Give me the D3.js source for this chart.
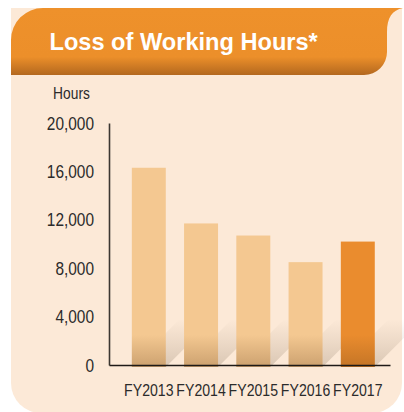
<!DOCTYPE html>
<html>
<head>
<meta charset="utf-8">
<script src="https://cdn.jsdelivr.net/npm/d3@7"></script>
<style>
  html, body { margin: 0; padding: 0; background: #ffffff; }
  svg { display: block; }
  .narrow { font-family: "Liberation Sans", Arial, sans-serif; }
</style>
</head>
<body>
<svg id="chart" width="404" height="412"></svg>
<script>
// Loss of working hours by fiscal year
const categories = ["FY2013", "FY2014", "FY2015", "FY2016", "FY2017"];
const hours = [16300, 11700, 10700, 8500, 10200];
const yTicks = [0, 4000, 8000, 12000, 16000, 20000];
const highlighted = "FY2017";
const titleText = "Loss of Working Hours*";
const unitText = "Hours";

// horizontal squeeze that gives the condensed label face
const squeeze = 0.82;

const svg = d3.select("#chart");
const defs = svg.append("defs");

// Header gradient: flat orange, darkening along the bottom edge
const hg = defs.append("linearGradient").attr("id", "headerGrad")
  .attr("x1", 0).attr("y1", 0).attr("x2", 0).attr("y2", 1);
hg.append("stop").attr("offset", "0%").attr("stop-color", "#EE912B");
hg.append("stop").attr("offset", "73%").attr("stop-color", "#EC8F2A");
hg.append("stop").attr("offset", "100%").attr("stop-color", "#B3681F");

// Floor shadow cast by each bar
const sg = defs.append("linearGradient").attr("id", "shadowGrad")
  .attr("x1", 0).attr("y1", 1).attr("x2", 0).attr("y2", 0);
sg.append("stop").attr("offset", "0%").attr("stop-color", "#7a6650").attr("stop-opacity", 0.26);
sg.append("stop").attr("offset", "55%").attr("stop-color", "#7a6650").attr("stop-opacity", 0.11);
sg.append("stop").attr("offset", "100%").attr("stop-color", "#7a6650").attr("stop-opacity", 0);

// Darkening at the foot of each bar
const bg = defs.append("linearGradient").attr("id", "footGrad")
  .attr("x1", 0).attr("y1", 0).attr("x2", 0).attr("y2", 1);
bg.append("stop").attr("offset", "0%").attr("stop-color", "#5a3310").attr("stop-opacity", 0);
bg.append("stop").attr("offset", "100%").attr("stop-color", "#5a3310").attr("stop-opacity", 0.26);

// Cream panel
svg.append("path")
  .attr("d", "M11,8 L402,8 L402,383 A30,30 0 0 1 372,413 L41,413 A30,30 0 0 1 11,383 Z")
  .attr("fill", "#FCE9D7");

// Orange header band
svg.append("path")
  .attr("d", "M11,75 L11,40 A32,32 0 0 1 43,8 L403,8 C392,10 387,18 387,32 L387,52 A23,23 0 0 1 364,75 Z")
  .attr("fill", "url(#headerGrad)");

svg.append("text")
  .attr("x", 49.5).attr("y", 50)
  .attr("fill", "#ffffff")
  .attr("font-family", "'Liberation Sans', Arial, sans-serif")
  .attr("font-weight", "bold")
  .attr("font-size", "23.6px")
  .text(titleText);

// Scales
const x = d3.scaleBand()
  .domain(categories)
  .range([109, 390])
  .paddingInner(0.35)
  .paddingOuter(0.364)
  .align(0.6);

const y = d3.scaleLinear()
  .domain([0, 20000])
  .range([365, 123]);

const data = categories.map((c, i) => ({ cat: c, value: hours[i] }));
const base = y(0) + 2;
const shadowH = 48;
const footH = 32;

// Shadows
svg.append("g").selectAll("path")
  .data(data)
  .join("path")
  .attr("d", d => {
    const x0 = x(d.cat), x1 = x0 + x.bandwidth();
    return `M${x0},${base} L${x1},${base} L${x1 + shadowH},${base - shadowH} L${x0 + shadowH},${base - shadowH} Z`;
  })
  .attr("fill", "url(#shadowGrad)");

// Bars
svg.append("g").selectAll("rect")
  .data(data)
  .join("rect")
  .attr("x", d => x(d.cat))
  .attr("y", d => y(d.value))
  .attr("width", x.bandwidth())
  .attr("height", d => base - y(d.value))
  .attr("fill", d => d.cat === highlighted ? "#EA8C2E" : "#F4C891");

// Foot shading
svg.append("g").selectAll("rect")
  .data(data)
  .join("rect")
  .attr("x", d => x(d.cat))
  .attr("y", base - footH)
  .attr("width", x.bandwidth())
  .attr("height", footH)
  .attr("fill", "url(#footGrad)");

// Y axis
const yAxis = svg.append("g")
  .attr("transform", "translate(109,0)")
  .call(d3.axisLeft(y).tickValues(yTicks).tickSize(0).tickPadding(15).tickFormat(d3.format(",")));
yAxis.select(".domain").attr("stroke", "#3b3631").attr("stroke-width", 1.6);
yAxis.selectAll("text")
  .attr("class", "narrow")
  .attr("font-size", "18.8px")
  .attr("fill", "#2b2b2b")
  .attr("x", -15 / squeeze)
  .attr("transform", `scale(${squeeze},1)`);

// X axis
const xAxis = svg.append("g")
  .attr("transform", `translate(0,${y(0)})`)
  .call(d3.axisBottom(x).tickSize(0).tickPadding(18.5));
xAxis.select(".domain").attr("stroke", "#1e1a17").attr("stroke-width", 1.6);
xAxis.selectAll("text")
  .attr("class", "narrow")
  .attr("font-size", "17.2px")
  .attr("fill", "#2b2b2b")
  .attr("transform", `scale(${squeeze},1)`);

// Unit label
svg.append("text")
  .attr("class", "narrow")
  .attr("x", 71.5 / squeeze).attr("y", 99.5)
  .attr("text-anchor", "middle")
  .attr("font-size", "16.8px")
  .attr("fill", "#2b2b2b")
  .attr("transform", `scale(${squeeze},1)`)
  .text(unitText);
</script>
</body>
</html>
